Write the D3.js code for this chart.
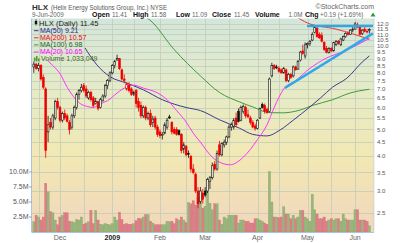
<!DOCTYPE html>
<html>
<head>
<meta charset="utf-8">
<script src="https://cdn.jsdelivr.net/npm/d3@7/dist/d3.min.js"></script>
<style>
  body { margin: 0; background: #fff; }
  svg { display: block; font-family: "Liberation Sans", Arial, sans-serif; }
</style>
</head>
<body>
<svg id="chart" width="400" height="243"></svg>
<script>
const width = 400;
const height = 243;

// daily bars, 13-Nov-2008 .. 9-Jun-2009
const open = [8.4,8.6,8.3,8.5,7.7,7.0,4.9,5.3,5.1,5.5,6.3,6.0,5.4,5.7,5.6,5.3,5.1,5.6,6.0,6.7,
  6.9,7.2,7.0,6.5,6.8,6.5,6.2,6.3,6.0,6.35,6.6,7.2,7.5,8.0,8.5,8.9,9.0,8.2,7.6,7.0,
  7.2,7.0,6.7,6.9,6.3,6.1,5.6,6.0,5.5,5.7,5.3,5.5,5.1,4.9,4.75,4.85,5.1,5.55,5.3,5.0,
  5.0,4.95,4.8,4.25,4.35,4.1,4.0,3.6,3.45,3.0,2.75,2.95,3.0,3.0,3.25,3.35,3.75,3.6,4.4,4.05,
  4.4,4.5,4.7,5.1,5.1,5.5,5.8,5.4,5.8,6.0,5.65,5.5,5.3,5.15,5.05,5.5,6.15,6.1,5.9,5.8,
  7.8,8.5,8.4,8.3,8.2,8.0,8.2,7.5,7.9,7.8,8.4,8.25,8.9,9.6,9.2,10.1,10.2,10.5,11.2,11.6,
  11.0,10.9,10.3,9.8,9.45,9.8,9.6,10.1,10.4,10.1,10.5,10.8,11.1,11.0,11.4,11.5,11.9,11.7,11.1,11.5,
  11.3,11.41];
const high = [8.8,8.7,8.7,8.6,7.9,7.1,5.6,5.5,5.7,6.4,6.5,6.1,5.8,5.9,5.7,5.4,5.7,6.1,6.8,7.0,
  7.3,7.35,7.2,6.9,6.9,6.6,6.5,6.35,6.5,6.7,7.3,7.6,8.1,8.6,8.9,9.3,9.05,8.3,7.9,7.4,
  7.4,7.1,6.9,7.0,6.5,6.3,6.1,6.1,5.8,5.9,5.6,5.6,5.2,5.0,4.9,5.3,5.5,5.65,5.35,5.1,
  5.1,5.0,4.85,4.5,4.4,4.2,4.05,3.75,3.5,3.1,3.1,3.05,3.1,3.35,3.4,3.8,3.85,4.2,4.55,4.5,
  4.6,4.75,5.2,5.3,5.5,5.75,5.95,6.1,6.15,6.1,5.9,5.6,5.4,5.25,5.45,6.0,6.25,6.2,6.0,7.7,
  8.7,8.6,8.55,8.45,8.3,8.4,8.3,8.0,8.0,8.5,8.5,8.9,9.6,10.1,10.3,10.3,10.5,11.2,11.9,11.7,
  11.2,11.2,10.4,10.0,9.9,9.9,10.35,10.5,10.5,10.7,10.9,11.2,11.3,11.5,11.7,12.2,12.15,11.8,11.5,11.7,
  11.5,11.58];
const low = [8.0,8.2,8.1,7.5,7.0,3.95,4.5,5.0,5.0,5.4,5.9,5.3,5.3,5.4,5.3,4.8,5.0,5.5,5.9,6.4,
  6.8,6.8,6.5,6.4,6.3,6.0,6.15,5.85,5.95,6.3,6.5,7.0,7.4,7.9,8.3,8.85,8.2,7.5,7.35,6.9,
  6.8,6.6,6.6,6.0,5.8,5.5,5.5,5.4,5.4,5.1,5.1,5.0,4.7,4.65,4.6,4.8,5.0,5.45,4.8,4.8,
  4.75,4.75,4.1,4.1,4.0,3.95,3.5,3.45,2.95,2.6,2.7,2.7,2.85,2.95,3.05,3.3,3.55,3.55,4.0,4.0,
  4.3,4.4,4.65,4.95,5.0,5.1,5.3,5.35,5.7,5.5,5.5,5.2,5.05,4.95,5.0,5.45,5.95,5.7,5.7,5.75,
  7.7,8.2,8.25,8.0,7.95,7.95,7.4,7.4,7.6,7.7,8.15,8.2,8.8,9.3,9.0,9.8,10.0,10.4,11.1,10.7,
  10.6,10.3,9.6,9.4,9.4,9.5,9.55,10.0,10.1,10.0,10.4,10.7,10.9,10.95,11.2,11.45,11.6,10.9,10.95,11.2,
  11.1,11.09];
const close = [8.6,8.3,8.5,7.6,7.1,4.2,5.2,5.1,5.6,6.3,6.0,5.4,5.7,5.5,5.35,5.0,5.6,6.0,6.7,6.9,
  7.1,6.9,6.6,6.8,6.4,6.1,6.3,5.95,6.4,6.6,7.2,7.5,8.0,8.5,8.8,9.0,8.3,7.6,7.5,7.3,
  6.9,6.7,6.8,6.2,6.0,5.6,6.0,5.5,5.7,5.2,5.45,5.1,4.8,4.75,4.8,5.2,5.4,5.5,4.9,4.85,
  4.8,4.8,4.2,4.4,4.05,4.1,3.6,3.5,3.0,2.7,3.0,2.8,2.9,3.3,3.35,3.7,3.6,4.1,4.05,4.45,
  4.5,4.7,5.1,5.2,5.4,5.2,5.35,6.0,6.05,5.6,5.55,5.3,5.1,5.05,5.4,5.95,6.0,5.8,5.75,7.6,
  8.5,8.3,8.35,8.1,8.0,8.3,7.5,7.9,7.7,8.4,8.2,8.8,9.5,9.4,10.1,10.2,10.4,11.0,11.7,10.8,
  10.7,10.4,9.7,9.5,9.8,9.6,10.3,10.4,10.2,10.6,10.8,11.1,11.0,11.4,11.5,12.0,11.7,11.0,11.4,11.3,
  11.26,11.45];
const prevClose = 8.5;
// volume in millions of shares
const volume = [1.7,2.8,2.5,2.0,2.5,8.1,6.7,3.4,3.2,2.0,1.2,2.5,2.8,3.2,3.2,1.8,1.7,1.6,2.1,2.0,
  2.5,1.3,1.5,1.7,3.6,1.4,3.6,2.0,1.3,1.2,1.4,1.3,1.2,1.4,2.5,2.0,3.3,2.1,1.3,1.4,
  1.3,1.3,1.4,1.9,2.3,2.2,2.5,2.9,2.9,1.8,1.5,1.2,1.2,1.2,1.2,1.2,1.8,1.7,1.8,1.4,
  2.2,2.0,2.5,2.0,1.6,4.9,4.7,5.2,4.5,5.8,5.3,4.0,4.3,6.7,4.8,3.7,4.7,4.7,2.0,1.3,
  2.5,2.2,2.8,2.8,2.8,2.8,1.5,2.0,2.0,1.8,1.8,1.5,1.5,2.2,2.2,2.0,1.8,1.5,1.3,10.1,
  5.0,2.5,2.5,2.4,2.5,4.2,3.0,3.0,2.2,2.8,2.2,2.5,3.6,3.6,2.5,2.2,1.8,6.3,3.7,3.0,
  2.2,2.2,2.5,1.8,2.0,2.2,2.0,2.2,2.2,1.8,3.0,2.2,2.0,2.0,2.0,3.7,3.7,2.0,2.0,2.0,
  1.8,1.033];

// moving averages, [bar index, value]
const ma20 = [[6,8.83],[8,8.5],[11,7.95],[14,7.1],[16.5,6.6],[19.5,6.2],[22.5,6.05],[25,6.0],[28,6.2],
  [31,6.35],[35,6.77],[39,7.12],[42,7.22],[46,7.05],[52,6.77],[56,6.4],[60,5.85],[64,5.32],[67,4.85],
  [70,4.5],[75,3.97],[79,3.78],[82.5,3.73],[88,3.97],[94,4.6],[98,5.2],[101,6.0],[105,7.0],[110,7.5],
  [116,8.3],[123,9.05],[130,9.55],[136,10.1],[141,10.65]];
const ma50 = [[21.5,9.84],[26.5,8.55],[32,7.75],[39,7.35],[46,6.95],[54,6.4],[64,6.0],[70,5.85],
  [78,5.42],[86.5,5.05],[92,4.8],[98,4.74],[103.5,4.98],[109,5.4],[116,6.03],[120.5,6.5],[125.5,7.1],
  [131.5,7.65],[138,8.75],[141,9.21]];
const ma100 = [[46,12.9],[48.8,12.4],[59,9.7],[70,7.8],[78,6.8],[86.5,6.28],[92,6.03],[99,5.75],
  [104.5,5.74],[112,5.88],[117,6.1],[125.5,6.4],[133,6.77],[141,6.98]];
const ma200 = [[110,12.8],[115,12.1],[127,11.5],[141,10.57]];

// trend lines drawn on the chart, [bar index, price]
const trendLines = [
  [[114.8,11.8],[142.5,11.8]],
  [[105.5,7.06],[142.5,11.1]]
];

const priceTicks = [2.5,3.0,3.5,4.0,4.5,5.0,5.5,6.0,6.5,7.0,7.5,8.0,8.5,9.0,9.5,10.0,10.5,11.0,11.5,12.0];
const volTicks = [2.5,5,7.5,10];
const volLabels = ["2.5M","5.0M","7.5M","10.0M"];
const monthIdx = [11,33,53,72,94,115,135];
const monthLabels = ["Dec","2009","Feb","Mar","Apr","May","Jun"];
const gridIdx = [2,11,21,33,42,53,64,72,82,94,103,115,125,135];

const legendRows = [
  {label: "MA(50) 9.21", color: "#1c1c8c", line: "#3a3a8c"},
  {label: "MA(200) 10.57", color: "#ee0000", line: "#ee3333"},
  {label: "MA(100) 6.98", color: "#1b5e1b", line: "#3d9a3d"},
  {label: "MA(20) 10.65", color: "#ff00ff", line: "#ff33ff"}
];

const pLeft = 31.5, pRight = 374, pTop = 18.5, pBottom = 232;

const svg = d3.select('#chart');

const x = d3.scaleLinear().domain([0, 141]).range([33.8, 369.4]);
const y = d3.scaleLog().domain([2.135, 12.405]).range([pBottom, 20]);
const yVol = d3.scaleLinear().domain([0, 10]).range([pBottom, 172]);

// background gradient
const defs = svg.append('defs');
const grad = defs.append('linearGradient')
  .attr('id', 'bg')
  .attr('x1', 0).attr('y1', 0).attr('x2', 0).attr('y2', 1);
grad.append('stop').attr('offset', '0%').attr('stop-color', '#d3e6dc');
grad.append('stop').attr('offset', '35%').attr('stop-color', '#e6ebc6');
grad.append('stop').attr('offset', '65%').attr('stop-color', '#f2e8b4');
grad.append('stop').attr('offset', '100%').attr('stop-color', '#f1d6bc');

defs.append('clipPath').attr('id', 'plotClip')
  .append('rect')
  .attr('x', pLeft).attr('y', pTop)
  .attr('width', pRight - pLeft).attr('height', pBottom - pTop);

svg.append('rect')
  .attr('x', pLeft).attr('y', pTop)
  .attr('width', pRight - pLeft).attr('height', pBottom - pTop)
  .attr('fill', 'url(#bg)');

// grid
const grid = svg.append('g').attr('clip-path', 'url(#plotClip)');
grid.selectAll('.hg')
  .data(priceTicks)
  .enter()
  .append('line')
  .attr('x1', pLeft).attr('x2', pRight)
  .attr('y1', (d) => Math.round(y(d)) + 0.5)
  .attr('y2', (d) => Math.round(y(d)) + 0.5)
  .attr('stroke', '#c3cbb6')
  .attr('stroke-width', 0.8);
grid.selectAll('.vg')
  .data(gridIdx)
  .enter()
  .append('line')
  .attr('x1', (d) => Math.round(x(d)) + 0.5)
  .attr('x2', (d) => Math.round(x(d)) + 0.5)
  .attr('y1', pTop).attr('y2', pBottom)
  .attr('stroke', '#c3cbb6')
  .attr('stroke-width', 0.8);

const plot = svg.append('g').attr('clip-path', 'url(#plotClip)');

const prev = (i) => i === 0 ? prevClose : close[i - 1];
const isDown = (i) => close[i] < prev(i);

// volume
plot.selectAll('.vol')
  .data(volume)
  .enter()
  .append('rect')
  .attr('x', (d, i) => x(i) - 1.15)
  .attr('width', 2.3)
  .attr('y', (d) => yVol(d))
  .attr('height', (d) => pBottom - yVol(d))
  .attr('fill', (d, i) => isDown(i) ? '#dc7f88' : '#98b57c')
  .attr('stroke', (d, i) => isDown(i) ? '#cf6a75' : '#85a667')
  .attr('stroke-width', 0.3);

// moving averages
const line = d3.line()
  .x((d) => x(d[0]))
  .y((d) => y(d[1]))
  .curve(d3.curveMonotoneX);

const maSeries = [
  {data: ma100, color: '#3d9a3d'},
  {data: ma50, color: '#3a3a8c'},
  {data: ma200, color: '#ee3333'},
  {data: ma20, color: '#ff33ff'}
];
maSeries.forEach((s) => {
  plot.append('path')
    .attr('d', line(s.data))
    .attr('fill', 'none')
    .attr('stroke', s.color)
    .attr('stroke-width', 1);
});

// candles
const candles = plot.selectAll('.candle')
  .data(close)
  .enter()
  .append('g');
candles.append('line')
  .attr('x1', (d, i) => x(i)).attr('x2', (d, i) => x(i))
  .attr('y1', (d, i) => y(high[i]))
  .attr('y2', (d, i) => y(low[i]))
  .attr('stroke', (d, i) => isDown(i) ? '#ee0000' : '#111')
  .attr('stroke-width', 0.8);
candles.append('rect')
  .attr('x', (d, i) => x(i) - 0.9)
  .attr('width', 1.8)
  .attr('y', (d, i) => y(Math.max(open[i], close[i])))
  .attr('height', (d, i) => Math.max(0.8, Math.abs(y(open[i]) - y(close[i]))))
  .attr('fill', (d, i) => {
    if (close[i] > open[i]) return '#eeeede';
    return isDown(i) ? '#ee0000' : '#111';
  })
  .attr('stroke', (d, i) => isDown(i) ? '#ee0000' : '#111')
  .attr('stroke-width', 0.6);

// trend lines
plot.selectAll('.trend')
  .data(trendLines)
  .enter()
  .append('line')
  .attr('x1', (d) => x(d[0][0])).attr('y1', (d) => y(d[0][1]))
  .attr('x2', (d) => x(d[1][0])).attr('y2', (d) => y(d[1][1]))
  .attr('stroke', '#2fa8e8')
  .attr('stroke-width', 2.4);

// frame
svg.append('line')
  .attr('x1', pLeft).attr('x2', pLeft).attr('y1', pTop).attr('y2', pBottom)
  .attr('stroke', '#a9c4dc').attr('stroke-width', 1);
svg.append('line')
  .attr('x1', pLeft).attr('x2', pRight).attr('y1', pBottom + 0.5).attr('y2', pBottom + 0.5)
  .attr('stroke', '#a9c4dc').attr('stroke-width', 1);
svg.append('line')
  .attr('x1', pRight).attr('x2', pRight).attr('y1', pTop).attr('y2', pBottom)
  .attr('stroke', '#a9c4dc').attr('stroke-width', 1)
  .attr('stroke-dasharray', '1,1');

// right price axis
const yAxis = svg.append('g');
yAxis.selectAll('text')
  .data(priceTicks)
  .enter()
  .append('text')
  .attr('x', pRight + 3)
  .attr('y', (d) => y(d))
  .attr('dy', '0.35em')
  .attr('font-size', 6)
  .attr('fill', '#555')
  .text((d) => d.toFixed(1));

// left volume axis
const vAxis = svg.append('g');
vAxis.selectAll('text')
  .data(volTicks)
  .enter()
  .append('text')
  .attr('x', pLeft - 3)
  .attr('y', (d) => yVol(d))
  .attr('dy', '0.35em')
  .attr('text-anchor', 'end')
  .attr('font-size', 7)
  .attr('fill', '#555')
  .text((d, i) => volLabels[i]);
vAxis.selectAll('line')
  .data(volTicks)
  .enter()
  .append('line')
  .attr('x1', pLeft - 2.5).attr('x2', pLeft)
  .attr('y1', (d) => yVol(d)).attr('y2', (d) => yVol(d))
  .attr('stroke', '#777').attr('stroke-width', 0.7);

// month labels
svg.append('g').selectAll('text')
  .data(monthIdx)
  .enter()
  .append('text')
  .attr('x', (d) => x(d))
  .attr('y', 239.5)
  .attr('text-anchor', 'middle')
  .attr('font-size', 7)
  .attr('font-weight', (d, i) => monthLabels[i] === '2009' ? 'bold' : 'normal')
  .attr('fill', (d, i) => monthLabels[i] === '2009' ? '#222' : '#666')
  .text((d, i) => monthLabels[i]);

// header
svg.append('text').attr('x', 32).attr('y', 10)
  .attr('font-size', 8).attr('font-weight', 'bold').attr('fill', '#333')
  .text('HLX');
svg.append('text').attr('x', 51).attr('y', 10)
  .attr('font-size', 6.5).attr('fill', '#555')
  .attr('textLength', 116).attr('lengthAdjust', 'spacingAndGlyphs')
  .text('(Helix Energy Solutions Group, Inc.) NYSE');
svg.append('text').attr('x', 374).attr('y', 9)
  .attr('font-size', 7).attr('fill', '#666').attr('text-anchor', 'end')
  .text('\u00a9StockCharts.com');

const info = [
  {t: '9-Jun-2009', x: 32, b: false},
  {t: 'Open', x: 92, b: true}, {t: '11.41', x: 112, b: false},
  {t: 'High', x: 133, b: true}, {t: '11.58', x: 151, b: false},
  {t: 'Low', x: 176, b: true}, {t: '11.09', x: 192, b: false},
  {t: 'Close', x: 212, b: true}, {t: '11.45', x: 234, b: false},
  {t: 'Volume', x: 255, b: true}, {t: '1.0M', x: 288.5, b: false},
  {t: 'Chg', x: 305, b: true}, {t: '+0.19 (+1.69%)', x: 320, b: false}
];
svg.append('g').selectAll('text')
  .data(info)
  .enter()
  .append('text')
  .attr('x', (d) => d.x).attr('y', 17.2)
  .attr('font-size', (d) => d.b ? 7 : 6.3)
  .attr('font-weight', (d) => d.b ? 'bold' : 'normal')
  .attr('fill', (d) => d.b ? '#111' : '#666')
  .text((d) => d.t);
svg.append('path')
  .attr('d', 'M370.5,16.5 L373,12.5 L375.5,16.5 Z')
  .attr('fill', '#2e9a2e');

// legend
const legend = svg.append('g').attr('transform', 'translate(34,0)');
legend.append('line').attr('x1', 2).attr('x2', 2).attr('y1', 19.5).attr('y2', 25.5)
  .attr('stroke', '#111').attr('stroke-width', 0.8);
legend.append('rect').attr('x', 0.8).attr('y', 21).attr('width', 2.4).attr('height', 3)
  .attr('fill', '#111');
legend.append('text').attr('x', 5).attr('y', 25.5)
  .attr('font-size', 7.6).attr('fill', '#222')
  .text('HLX (Daily) 11.45');
legendRows.forEach((r, k) => {
  const yy = 33 + k * 7.1;
  legend.append('line').attr('x1', 0).attr('x2', 4.5)
    .attr('y1', yy - 2.3).attr('y2', yy - 2.3)
    .attr('stroke', r.line).attr('stroke-width', 1);
  legend.append('text').attr('x', 6).attr('y', yy)
    .attr('font-size', 7).attr('fill', r.color)
    .text(r.label);
});
const vy = 33 + 4 * 7.1;
legend.append('rect').attr('x', 0).attr('y', vy - 4).attr('width', 1.6).attr('height', 4)
  .attr('fill', '#5e9a3e');
legend.append('rect').attr('x', 2).attr('y', vy - 5.5).attr('width', 1.6).attr('height', 5.5)
  .attr('fill', '#5e9a3e');
legend.append('rect').attr('x', 4).attr('y', vy - 3).attr('width', 1.6).attr('height', 3)
  .attr('fill', '#5e9a3e');
legend.append('text').attr('x', 7).attr('y', vy)
  .attr('font-size', 7).attr('fill', '#3f6a25')
  .text('Volume 1,033,049');
</script>
</body>
</html>
